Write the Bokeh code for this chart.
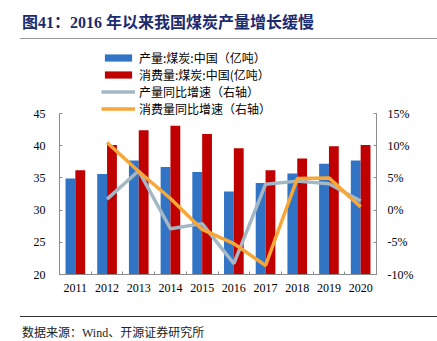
import numpy as np
from bokeh.plotting import figure
from bokeh.layouts import column
from bokeh.models import (ColumnDataSource, Range1d, LinearAxis, FixedTicker,
                          Legend, LegendItem, Div)
from bokeh.transform import dodge
from bokeh.embed import file_html
from bokeh.resources import INLINE

# ---- data ----
years = ["2011", "2012", "2013", "2014", "2015", "2016", "2017", "2018", "2019", "2020"]
production = [34.9, 35.6, 37.7, 36.7, 35.9, 32.9, 34.2, 35.7, 37.2, 37.7]        # 亿吨
consumption = [36.2, 40.1, 42.4, 43.1, 41.8, 39.6, 36.2, 38.0, 39.9, 40.1]       # 亿吨
prod_growth = [np.nan, 1.7, 6.1, -2.9, -2.1, -8.3, 4.0, 4.5, 4.1, 1.4]           # %
cons_growth = [np.nan, 10.5, 6.0, 1.8, -3.0, -5.2, -8.6, 4.9, 5.0, 0.5]          # %
left_ticks = [20, 25, 30, 35, 40, 45]
right_ticks = [-10, -5, 0, 5, 10, 15]

title_text = "图41：2016 年以来我国煤炭产量增长缓慢"
source_text = "数据来源：Wind、开源证券研究所"
legend_labels = ["产量:煤炭:中国（亿吨）", "消费量:煤炭:中国(亿吨）",
                 "产量同比增速（右轴）", "消费量同比增速（右轴）"]

BLUE = "#3174C6"
RED = "#C00000"
GRAY = "#A3B7C4"
ORANGE = "#F7A737"
AXIS = "#8C8C8C"
SERIF = "Liberation Serif, Noto Sans CJK SC"
CJK = "Noto Sans CJK SC"

idx = list(range(1, len(years) + 1))
src = ColumnDataSource(dict(x=idx, prod=production, cons=consumption,
                            pg=prod_growth, cg=cons_growth))

# frame is taller than the axes (room for the legend above the 45 / 15% line);
# the axis lines are bounded to the visible scale
L0, L1 = left_ticks[0], left_ticks[-1]
R0, R1 = right_ticks[0], right_ticks[-1]
FRAME_H = 232          # px, frame height (canvas 42..274 after the 40px title)
AXIS_H = 161           # px, height of the 20..45 scale
head = (L1 - L0) * (FRAME_H / AXIS_H - 1)

p = figure(width=437, height=276, output_backend="svg", toolbar_location=None,
           x_range=Range1d(0.5, len(years) + 0.5), y_range=Range1d(L0, L1 + head),
           min_border_left=59, min_border_right=61, min_border_top=2,
           min_border_bottom=42)
p.outline_line_color = None
p.grid.visible = False
p.background_fill_color = "white"
p.border_fill_color = "white"

p.extra_y_ranges = {"right": Range1d(R0, R1 + head)}

bw = 0.31
r_prod = p.vbar(x=dodge("x", -bw / 2), top="prod", bottom=L0, width=bw, source=src,
                fill_color=BLUE, line_color=None)
r_cons = p.vbar(x=dodge("x", bw / 2), top="cons", bottom=L0, width=bw, source=src,
                fill_color=RED, line_color=None)
r_pg = p.line(x="x", y="pg", source=src, y_range_name="right",
              line_color=GRAY, line_width=3.5)
r_cg = p.line(x="x", y="cg", source=src, y_range_name="right",
              line_color=ORANGE, line_width=3.5)

# x axis: labels at centers, tick marks at category boundaries
xa = p.xaxis[0]
xa.ticker = FixedTicker(ticks=idx, minor_ticks=[i + 0.5 for i in range(len(years) + 1)])
xa.major_label_overrides = {i: y for i, y in zip(idx, years)}
xa.major_tick_in = 0
xa.major_tick_out = 0
xa.minor_tick_in = 3
xa.minor_tick_out = 0
xa.minor_tick_line_color = AXIS
xa.axis_line_color = AXIS
xa.major_label_text_font = SERIF
xa.major_label_text_font_size = "12px"
xa.major_label_text_color = "#000000"
xa.major_label_standoff = 9

ya = p.yaxis[0]
ya.ticker = FixedTicker(ticks=left_ticks)
ya.bounds = (L0, L1)
ya.major_tick_in = 3
ya.major_tick_out = 0
ya.minor_tick_line_color = None
ya.axis_line_color = AXIS
ya.major_tick_line_color = AXIS
ya.major_label_text_font = SERIF
ya.major_label_text_font_size = "12px"
ya.major_label_text_color = "#000000"
ya.major_label_standoff = 14

ra = LinearAxis(y_range_name="right", ticker=FixedTicker(ticks=right_ticks),
                bounds=(R0, R1))
ra.major_label_overrides = {t: f"{t}%" for t in right_ticks}
ra.major_tick_in = 3
ra.major_tick_out = 0
ra.minor_tick_line_color = None
ra.axis_line_color = AXIS
ra.major_tick_line_color = AXIS
ra.major_label_text_font = SERIF
ra.major_label_text_font_size = "12px"
ra.major_label_text_color = "#000000"
ra.major_label_standoff = 11
p.add_layout(ra, "right")

# legend inside the (tall) frame, above the plotted area
legend = Legend(items=[LegendItem(label=legend_labels[0], renderers=[r_prod]),
                       LegendItem(label=legend_labels[1], renderers=[r_cons]),
                       LegendItem(label=legend_labels[2], renderers=[r_pg]),
                       LegendItem(label=legend_labels[3], renderers=[r_cg])],
                location=(42, 157), orientation="vertical")
legend.glyph_width = 34
legend.glyph_height = 9
legend.label_height = 17
legend.label_standoff = 4
legend.spacing = 0
legend.padding = 0
legend.margin = 0
legend.border_line_color = None
legend.background_fill_alpha = 0
legend.label_text_font = CJK
legend.label_text_font_size = "12px"
legend.label_text_color = "#000000"
p.add_layout(legend, "center")

title_div = Div(width=437, height=40, margin=(0, 0, 0, 0), text=(
    '<div style="margin-left:20px;width:417px;height:39px;box-sizing:border-box;'
    'border-bottom:1.5px solid #9A9A9A;padding:14px 0 0 2px;white-space:nowrap;'
    'font-family:\'Liberation Serif\',\'Noto Sans CJK SC\';font-weight:bold;'
    'font-size:16px;line-height:18px;color:#1C2B6E;">' + title_text + '</div>'))
footer_div = Div(width=437, height=25, margin=(0, 0, 0, 0), text=(
    '<div style="margin-left:20px;width:417px;height:25px;box-sizing:border-box;'
    'border-top:1px solid #333333;padding:9px 0 0 2px;white-space:nowrap;'
    'font-family:\'Liberation Serif\',\'Noto Sans CJK SC\';'
    'font-size:12px;line-height:15px;color:#222222;">' + source_text + '</div>'))

layout = column(title_div, p, footer_div, spacing=0)
open("out.html", "w").write(file_html(layout, INLINE))
